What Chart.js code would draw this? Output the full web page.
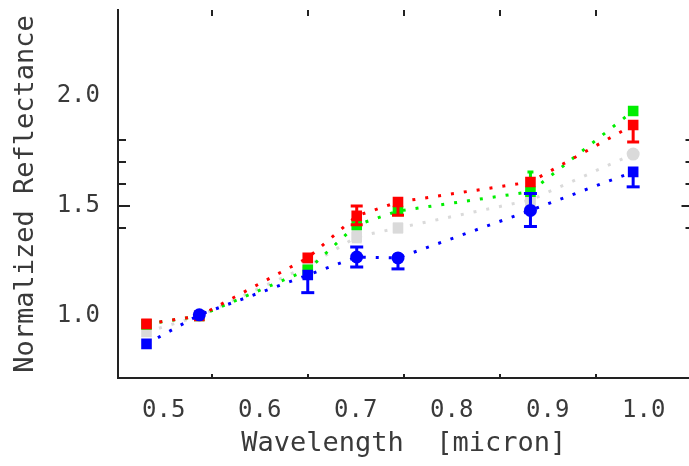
<!DOCTYPE html>
<html><head><meta charset="utf-8">
<script src="https://cdn.jsdelivr.net/npm/chart.js@4/dist/chart.umd.min.js"></script>
<style>
html,body{margin:0;padding:0;background:#fff;overflow:hidden}
#wrap{width:697px;height:466px;position:relative}
</style>
</head><body><div id="wrap"><canvas id="c"></canvas></div>
<script>
// ---- data ----
const wavelengths = [0.482, 0.537, 0.650, 0.701, 0.744, 0.882, 0.989];
const redVals   = [0.964, 1.000, 1.264, 1.455, 1.518, 1.609, 1.868];
const greenVals = [0.962, 1.000, 1.210, 1.414, 1.477, 1.565, 1.932];
const grayVals  = [0.927, 1.000, 1.227, 1.360, 1.400, 1.527, 1.736];
const blueVals  = [0.873, 1.005, 1.186, 1.268, 1.264, 1.480, 1.655];
const redErrLo   = [null, null, null, 0.040, 0.060, null, 0.077];
const redErrHi   = [null, null, null, 0.045, null, null, null];
const greenErrLo = [null, null, null, null, null, 0.090, null];
const greenErrHi = [null, null, null, null, null, 0.090, null];
const grayErrLo  = [null, null, null, 0.030, 0.025, 0.030, null];
const grayErrHi  = [null, null, null, 0.030, 0.025, 0.030, null];
const blueErrLo  = [null, null, 0.080, 0.045, 0.050, 0.073, 0.068];
const blueErrHi  = [null, null, null, 0.045, null, 0.077, null];
const xTickLabels = [0.5, 0.6, 0.7, 0.8, 0.9, 1.0];
const yTickLabels = [1.0, 1.5, 2.0];
const xMinorTicks = [0.55, 0.65, 0.75, 0.85, 0.95];
const yMinorTicks = [1.4, 1.5, 1.6, 1.7, 1.8];
const yMajorInside = [1.5];

const FONT = 'DejaVu Sans Mono';
const TXT = '#3a3a3a';

function series(label, ys, color, styles, radii, lo, hi, barW, capW) {
  return {
    label, data: wavelengths.map((x, i) => ({x, y: ys[i]})),
    borderColor: color, backgroundColor: color,
    pointBackgroundColor: color, pointBorderWidth: 0,
    pointStyle: styles, pointRadius: radii,
    borderWidth: 3, borderDash: [3, 10], tension: 0, fill: false, showLine: true,
    errLo: lo, errHi: hi, barW, capW
  };
}

const datasets = [
  series('blue', blueVals, '#0000ff', ['rect','circle','rect','circle','circle','circle','rect'], [7.5,6.5,7.5,6.5,6.5,6.5,7.5], blueErrLo, blueErrHi, 3, 13),
  series('red', redVals, '#ff0000', 'rect', 7.5, redErrLo, redErrHi, 3, 12),
  series('green', greenVals, '#00ee00', 'rect', 7.5, greenErrLo, greenErrHi, 3, 6),
  series('gray', grayVals, '#dadada', ['rect','rect','rect','rect','rect','rect','circle'], [7.5,7.5,7.5,7.5,7.5,7.5,6.5], grayErrLo, grayErrHi, 10, 0)
];

const decor = {
  id: 'decor',
  afterDatasetDraw(chart, args) {
    const ds = chart.data.datasets[args.index];
    const xs = chart.scales.x, ys = chart.scales.y, ctx = chart.ctx;
    ctx.save();
    ctx.strokeStyle = ds.borderColor;
    ds.data.forEach((p, i) => {
      const lo = ds.errLo[i], hi = ds.errHi[i];
      if (lo == null && hi == null) return;
      const px = xs.getPixelForValue(p.x);
      const y0 = ys.getPixelForValue(p.y - (lo || 0));
      const y1 = ys.getPixelForValue(p.y + (hi || 0));
      ctx.lineWidth = ds.barW;
      ctx.beginPath(); ctx.moveTo(px, y0); ctx.lineTo(px, y1); ctx.stroke();
      if (ds.capW) {
        ctx.lineWidth = 3;
        ctx.beginPath();
        if (lo != null) { ctx.moveTo(px - ds.capW/2, y0); ctx.lineTo(px + ds.capW/2, y0); }
        if (hi != null) { ctx.moveTo(px - ds.capW/2, y1); ctx.lineTo(px + ds.capW/2, y1); }
        ctx.stroke();
      }
    });
    ctx.restore();
  },
  afterDraw(chart) {
    const {ctx, chartArea: a} = chart;
    const xs = chart.scales.x, ys = chart.scales.y;
    ctx.save();
    ctx.strokeStyle = '#222';
    ctx.lineWidth = 2;
    ctx.beginPath();
    xMinorTicks.forEach(v => {
      const px = Math.round(xs.getPixelForValue(v));
      ctx.moveTo(px, a.top); ctx.lineTo(px, a.top + 6);
      ctx.moveTo(px, a.bottom); ctx.lineTo(px, a.bottom - 4);
    });
    yMinorTicks.forEach(v => {
      const py = Math.round(ys.getPixelForValue(v));
      const major = yMajorInside.includes(v);
      ctx.moveTo(a.left, py); ctx.lineTo(a.left + (major ? 12 : 8), py);
      ctx.moveTo(a.right, py); ctx.lineTo(a.right - (major ? 8 : 4), py);
    });
    ctx.stroke();
    ctx.restore();
  }
};

new Chart(document.getElementById('c'), {
  type: 'line',
  data: { datasets },
  plugins: [decor],
  options: {
    responsive: true, maintainAspectRatio: false, animation: false,
    layout: { padding: { top: 10, right: 0, left: 0, bottom: 0 } },
    plugins: { legend: { display: false }, tooltip: { enabled: false } },
    scales: {
      x: {
        type: 'linear', min: 0.4523, max: 1.0477,
        afterBuildTicks: s => { s.ticks = xTickLabels.map(v => ({value: v})); },
        afterFit: s => { s.height = 88; s.paddingLeft = 0; s.paddingRight = 0; },
        grid: { display: false, drawTicks: false },
        border: { display: true, color: '#222', width: 2 },
        ticks: { callback: v => Number(v).toFixed(1), font: { family: FONT, size: 24 }, color: TXT, padding: 18, maxRotation: 0, autoSkip: false },
        title: { display: true, text: 'Wavelength  [micron]', font: { family: FONT, size: 27 }, color: TXT, padding: { top: 0, bottom: 6 } }
      },
      y: {
        type: 'linear', min: 0.718, max: 2.391,
        afterBuildTicks: s => { s.ticks = yTickLabels.map(v => ({value: v})); },
        afterFit: s => { s.width = 118; s.paddingTop = 0; s.paddingBottom = 0; },
        grid: { display: false, drawTicks: false },
        border: { display: true, color: '#222', width: 2 },
        ticks: { callback: v => Number(v).toFixed(1), font: { family: FONT, size: 24 }, color: TXT, padding: 18 },
        title: { display: true, text: 'Normalized Reflectance', font: { family: FONT, size: 27 }, color: TXT, padding: { top: 10, bottom: 0 } }
      }
    }
  }
});
</script>
</body></html>
